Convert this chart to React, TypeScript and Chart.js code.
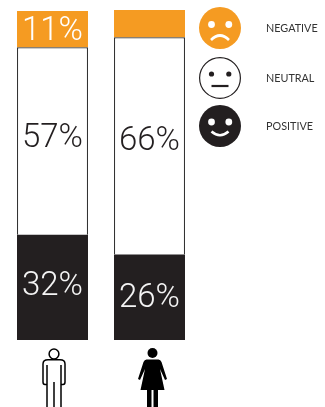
import React, { useEffect, useRef } from "react";
import { Chart, registerables, Plugin } from "chart.js";

Chart.register(...registerables);

const categories = ["Male", "Female"];
const positive = [32, 26];
const neutral = [57, 66];
const negative = [11, 8.3];
const negativeLabels = ["11%", ""];
const neutralLabels = ["57%", "66%"];
const positiveLabels = ["32%", "26%"];
const legendLabels = ["NEGATIVE", "NEUTRAL", "POSITIVE"];

const ORANGE = "#F59B22";
const DARK = "#231F20";

const segmentLabels: Plugin<"bar"> = {
  id: "segmentLabels",
  afterDatasetsDraw(chart) {
    const { ctx } = chart;
    const rows = [
      { ds: 0, labels: positiveLabels, color: "#F4F4F4", dy: [-1, 2] },
      { ds: 1, labels: neutralLabels, color: DARK, dy: [-2, -4] },
      { ds: 2, labels: negativeLabels, color: "#FFFFFF", dy: [3, 0] },
    ];
    ctx.save();
    ctx.textAlign = "center";
    ctx.textBaseline = "middle";
    ctx.font = "300 33px Roboto";
    rows.forEach((row) => {
      const meta = chart.getDatasetMeta(row.ds);
      meta.data.forEach((bar: any, i: number) => {
        const text = row.labels[i];
        if (!text) return;
        ctx.fillStyle = row.color;
        ctx.fillText(text, bar.x, (bar.y + bar.base) / 2 + row.dy[i]);
      });
    });
    ctx.restore();
  },
};

function drawFace(ctx: CanvasRenderingContext2D, kind: number, cy: number) {
  const cx = 220;
  const fg = kind === 1 ? DARK : "#FFFFFF";
  ctx.beginPath();
  if (kind === 1) {
    ctx.arc(cx, cy, 20.4, 0, Math.PI * 2);
    ctx.fillStyle = "#FFFFFF";
    ctx.fill();
    ctx.strokeStyle = DARK;
    ctx.lineWidth = 1.2;
    ctx.stroke();
  } else {
    ctx.arc(cx, cy, 21, 0, Math.PI * 2);
    ctx.fillStyle = kind === 0 ? ORANGE : DARK;
    ctx.fill();
  }
  ctx.fillStyle = fg;
  const eyeY = kind === 0 ? cy - 3.5 : cy - 4;
  const eyeR = kind === 1 ? 2.6 : 3.4;
  [-8.5, 8.8].forEach((dx) => {
    ctx.beginPath();
    ctx.arc(cx + dx, eyeY, eyeR, 0, Math.PI * 2);
    ctx.fill();
  });
  ctx.strokeStyle = fg;
  ctx.lineCap = "butt";
  ctx.beginPath();
  if (kind === 0) {
    ctx.lineWidth = 2.6;
    ctx.moveTo(cx - 9, cy + 12);
    ctx.quadraticCurveTo(cx, cy + 3, cx + 9, cy + 12);
  } else if (kind === 1) {
    ctx.lineWidth = 2.2;
    ctx.moveTo(cx - 8.5, cy + 8);
    ctx.lineTo(cx + 8.5, cy + 8);
  } else {
    ctx.lineWidth = 2.6;
    ctx.moveTo(cx - 8.5, cy + 5.5);
    ctx.quadraticCurveTo(cx, cy + 13, cx + 8.5, cy + 5.5);
  }
  ctx.stroke();
}

const legendPlugin: Plugin<"bar"> = {
  id: "faceLegend",
  afterDraw(chart) {
    const { ctx } = chart;
    const rowsY = [28, 78, 126];
    ctx.save();
    legendLabels.forEach((label, i) => {
      drawFace(ctx, i, rowsY[i]);
      ctx.fillStyle = "#333333";
      ctx.font = "10.8px Lato";
      ctx.textAlign = "left";
      ctx.textBaseline = "middle";
      ctx.fillText(label, 266, rowsY[i] + 1);
    });
    ctx.restore();
  },
};

const figures: Plugin<"bar"> = {
  id: "figures",
  afterDraw(chart) {
    const { ctx } = chart;
    const x = chart.scales.x;
    const m = x.getPixelForValue(0);
    const f = x.getPixelForValue(1);
    ctx.save();
    ctx.strokeStyle = "#000";
    ctx.fillStyle = "#000";

    // Man: outlined
    const cm = m + 1.5;
    ctx.lineWidth = 1.5;
    ctx.beginPath();
    ctx.arc(cm, 354, 4.9, 0, Math.PI * 2);
    ctx.stroke();
    ctx.beginPath();
    ctx.moveTo(cm - 7, 407);
    ctx.lineTo(cm - 7, 365);
    ctx.moveTo(cm + 7, 407);
    ctx.lineTo(cm + 7, 365);
    ctx.moveTo(cm, 407);
    ctx.lineTo(cm, 382);
    ctx.stroke();
    ctx.beginPath();
    ctx.moveTo(cm - 7, 384.5);
    ctx.lineTo(cm - 9, 384.5);
    ctx.quadraticCurveTo(cm - 11, 384.5, cm - 11, 382);
    ctx.lineTo(cm - 11, 364);
    ctx.quadraticCurveTo(cm - 11, 359.8, cm - 6, 359.8);
    ctx.lineTo(cm + 6, 359.8);
    ctx.quadraticCurveTo(cm + 11, 359.8, cm + 11, 364);
    ctx.lineTo(cm + 11, 382);
    ctx.quadraticCurveTo(cm + 11, 384.5, cm + 9, 384.5);
    ctx.lineTo(cm + 7, 384.5);
    ctx.stroke();

    // Woman: solid
    const cf = f + 3;
    ctx.beginPath();
    ctx.arc(cf, 353, 5, 0, Math.PI * 2);
    ctx.fill();
    ctx.beginPath();
    ctx.moveTo(cf - 6, 359.5);
    ctx.lineTo(cf + 6, 359.5);
    ctx.quadraticCurveTo(cf + 8, 359.5, cf + 9, 362);
    ctx.lineTo(cf + 14.5, 379);
    ctx.lineTo(cf + 12.5, 380);
    ctx.lineTo(cf + 7.5, 369);
    ctx.lineTo(cf + 12, 390);
    ctx.lineTo(cf + 5.5, 390);
    ctx.lineTo(cf + 5.5, 407);
    ctx.lineTo(cf + 1, 407);
    ctx.lineTo(cf + 1, 390);
    ctx.lineTo(cf - 1, 390);
    ctx.lineTo(cf - 1, 407);
    ctx.lineTo(cf - 5.5, 407);
    ctx.lineTo(cf - 5.5, 390);
    ctx.lineTo(cf - 12, 390);
    ctx.lineTo(cf - 7.5, 369);
    ctx.lineTo(cf - 12.5, 380);
    ctx.lineTo(cf - 14.5, 379);
    ctx.lineTo(cf - 9, 362);
    ctx.quadraticCurveTo(cf - 8, 359.5, cf - 6, 359.5);
    ctx.closePath();
    ctx.fill();
    ctx.restore();
  },
};

export default function App() {
  const ref = useRef<HTMLCanvasElement>(null);
  useEffect(() => {
    if (!ref.current) return;
    const chart = new Chart(ref.current, {
      type: "bar",
      data: {
        labels: categories,
        datasets: [
          { label: "Positive", data: positive, backgroundColor: DARK, borderWidth: 0 },
          { label: "Neutral", data: neutral, backgroundColor: "#FFFFFF", borderColor: "#333333", borderWidth: 1.2 },
          { label: "Negative", data: negative, backgroundColor: ORANGE, borderWidth: 0 },
        ],
      },
      options: {
        animation: false,
        responsive: false,
        devicePixelRatio: 1,
        layout: { padding: { left: 4, right: 127, top: 10, bottom: 67 } },
        datasets: { bar: { barPercentage: 71 / 97, categoryPercentage: 1 } },
        plugins: { legend: { display: false }, tooltip: { enabled: false }, title: { display: false } },
        scales: {
          x: { stacked: true, display: false, offset: true },
          y: { stacked: true, display: false, min: 0, max: 100.3 },
        },
      },
      plugins: [segmentLabels, legendPlugin, figures],
    });
    return () => chart.destroy();
  }, []);
  return (
    <div style={{ position: "fixed", left: 0, top: 0, width: 325, height: 407, background: "#fff" }}>
      <canvas ref={ref} width={325} height={407} style={{ display: "block" }} />
    </div>
  );
}
